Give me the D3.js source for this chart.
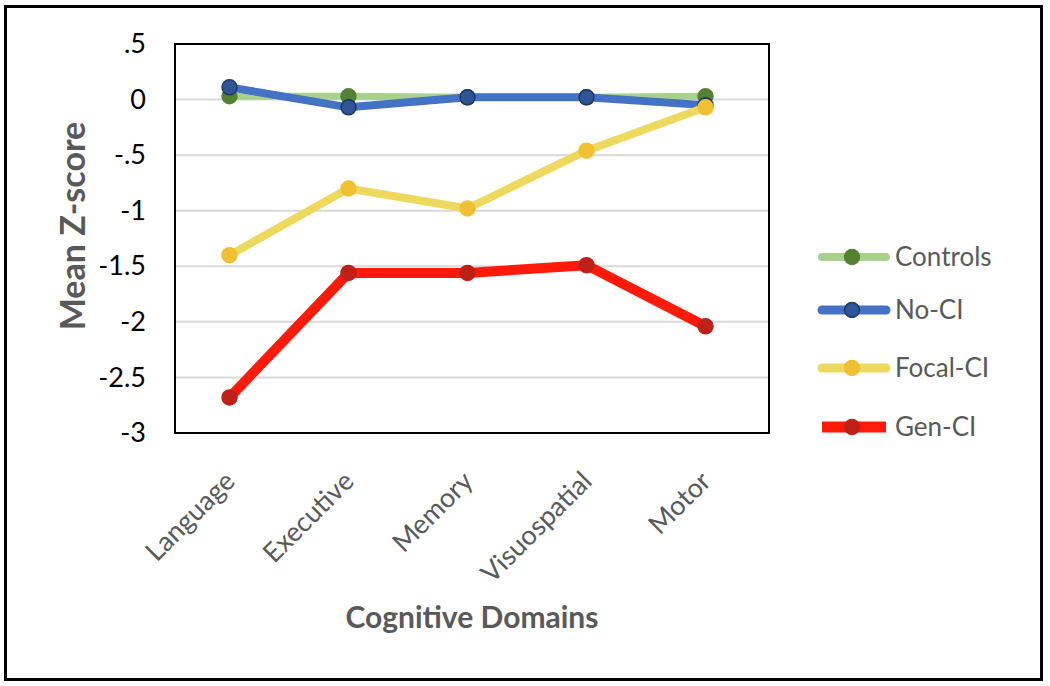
<!DOCTYPE html>
<html><head><meta charset="utf-8">
<script src="https://cdn.jsdelivr.net/npm/d3@7"></script>
<style>body{margin:0;background:#fff}svg{display:block}</style>
</head><body><svg id="c" width="1050" height="686"></svg>
<script>
const categories = ["Language","Executive","Memory","Visuospatial","Motor"];
const seriesNames = ["Controls","No-CI","Focal-CI","Gen-CI"];
const controls = [0.03, 0.03, 0.02, 0.02, 0.03];
const noCI = [0.11, -0.07, 0.02, 0.02, -0.05];
const focalCI = [-1.40, -0.80, -0.98, -0.46, -0.07];
const genCI = [-2.68, -1.56, -1.56, -1.49, -2.04];
const yTicks = [0.5, 0, -0.5, -1, -1.5, -2, -2.5, -3];
const yTickLabels = [".5","0","-.5","-1","-1.5","-2","-2.5","-3"];

const styles = [
  {line:"#a9d18e", w:7, fill:"#548235", stroke:"#548235"},
  {line:"#4472c4", w:8, fill:"#2f5597", stroke:"#1f3864"},
  {line:"#eed95f", w:8, fill:"#f0c030", stroke:"#f0c030"},
  {line:"#ff1a0a", w:10, fill:"#c0201a", stroke:"#c0201a"}
];
const data = [controls, noCI, focalCI, genCI];

const svg = d3.select("#c");
const font = "Lato, 'Open Sans', 'Liberation Sans', sans-serif";
const L=175, R=769, T=44, B=433;

// outer frame
svg.append("rect").attr("x",5.5).attr("y",6.5).attr("width",1036).attr("height",673)
  .attr("fill","none").attr("stroke","#000").attr("stroke-width",3);

const x = d3.scaleBand().domain(categories).range([170,765]);
const y = d3.scaleLinear().domain([-3,0.5]).range([B,T]);

// gridlines
svg.append("g").selectAll("line").data(yTicks.slice(1,-1)).join("line")
  .attr("x1",L).attr("x2",R).attr("y1",d=>y(d)).attr("y2",d=>y(d))
  .attr("stroke","#d9d9d9").attr("stroke-width",2);

// plot frame
svg.append("rect").attr("x",L).attr("y",T).attr("width",R-L).attr("height",B-T)
  .attr("fill","none").attr("stroke","#000").attr("stroke-width",2);

// y axis
const yAxis = d3.axisLeft(y).tickValues(yTicks).tickSize(0).tickPadding(29)
  .tickFormat((d,i)=>yTickLabels[i]);
const gy = svg.append("g").attr("transform",`translate(${L},0)`).call(yAxis);
gy.select(".domain").remove();
gy.selectAll("text").attr("font-family",font).attr("font-size",27).attr("fill","#000");

// x axis
const xAxis = d3.axisBottom(x).tickSize(0).tickPadding(0);
const gx = svg.append("g").attr("transform",`translate(0,${B})`).call(xAxis);
gx.select(".domain").remove();
gx.selectAll("text").attr("font-family",font).attr("font-size",27).attr("fill","#595959")
  .attr("text-anchor","end").attr("dy",0)
  .attr("transform","translate(7,50) rotate(-45)");

// axis titles
svg.append("text").attr("transform","translate(85,226) rotate(-90)")
  .attr("text-anchor","middle").attr("font-family",font).attr("font-weight","bold")
  .attr("font-size",34).attr("fill","#595959").text("Mean Z-score");
svg.append("text").attr("x",472).attr("y",628).attr("text-anchor","middle")
  .attr("font-family",font).attr("font-weight","bold").attr("font-size",30)
  .attr("fill","#595959").text("Cognitive  Domains");

// series
const cx = (d,i)=>x(categories[i])+x.bandwidth()/2;
const line = d3.line().x(cx).y(d=>y(d));
data.forEach((vals,si)=>{
  const s = styles[si];
  const g = svg.append("g");
  g.append("path").attr("d",line(vals)).attr("fill","none").attr("stroke",s.line)
    .attr("stroke-width",s.w).attr("stroke-linejoin","round");
  g.selectAll("circle").data(vals).join("circle")
    .attr("cx",cx).attr("cy",d=>y(d))
    .attr("r",7.5).attr("fill",s.fill).attr("stroke",s.stroke).attr("stroke-width",1.5);
});

// legend
const legY = [257, 310, 368, 427];
seriesNames.forEach((n,si)=>{
  const s = styles[si];
  const g = svg.append("g").attr("transform",`translate(0,${legY[si]})`);
  g.append("line").attr("x1",822).attr("x2",886).attr("stroke",s.line).attr("stroke-width",s.w+1)
    .attr("stroke-linecap", si===3 ? "butt" : "round");
  g.append("circle").attr("cx",852).attr("r",7.5).attr("fill",s.fill).attr("stroke",s.stroke).attr("stroke-width",1.5);
  g.append("text").attr("x",895).attr("y",9).attr("font-family",font).attr("font-size",26)
    .attr("fill","#595959").text(n);
});
</script></body></html>
